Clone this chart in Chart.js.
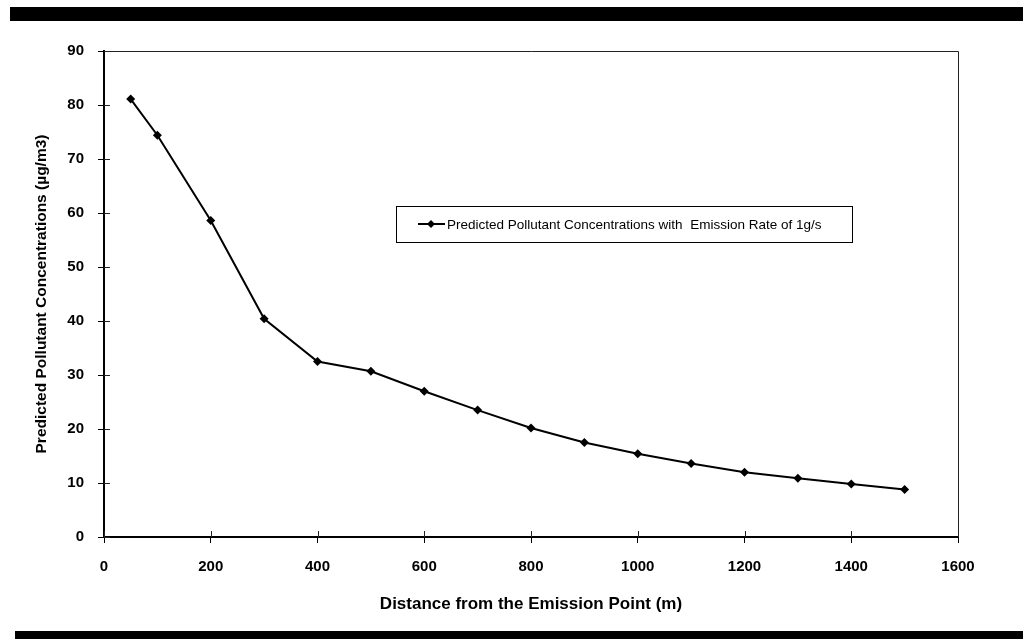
<!DOCTYPE html>
<html>
<head>
<meta charset="utf-8">
<script src="https://cdn.jsdelivr.net/npm/chart.js@4.4.1/dist/chart.umd.min.js"></script>
<style>
  html, body { margin: 0; padding: 0; background: #fff; }
  canvas { display: block; }
</style>
</head>
<body>
<canvas id="concChart" width="1023" height="639"></canvas>
<script>
// distance downwind (m) and predicted concentration (µg/m3)
const distances = [50, 100, 200, 300, 400, 500, 600, 700, 800, 900, 1000, 1100, 1200, 1300, 1400, 1500];
const concentrations = [81.1, 74.4, 58.6, 40.4, 32.5, 30.7, 27.0, 23.5, 20.2, 17.5, 15.4, 13.6, 12.0, 10.9, 9.8, 8.8];
const xTicks = [0, 200, 400, 600, 800, 1000, 1200, 1400, 1600];
const yTicks = [0, 10, 20, 30, 40, 50, 60, 70, 80, 90];

const seriesLabel = 'Predicted Pollutant Concentrations with  Emission Rate of 1g/s';
const xTitle = 'Distance from the Emission Point (m)';
const yTitle = 'Predicted Pollutant Concentrations (\u00b5g/m3)';

const FONT = '"Liberation Sans", Arial, sans-serif';

// page bars, plot frame, inner tick halves and the boxed legend
const decor = {
  id: 'decor',
  beforeDraw(chart) {
    const ctx = chart.ctx;
    ctx.save();
    ctx.fillStyle = '#fff';
    ctx.fillRect(0, 0, chart.width, chart.height);
    ctx.fillStyle = '#000';
    ctx.fillRect(10, 7, chart.width - 10, 14);
    ctx.fillRect(15, 631, chart.width - 15, 8);
    ctx.restore();
  },
  beforeDatasetsDraw(chart) {
    const { ctx, chartArea: a, scales } = chart;
    ctx.save();
    ctx.strokeStyle = '#222';
    ctx.lineWidth = 1;
    ctx.beginPath();
    ctx.moveTo(a.left, a.top + 0.5);
    ctx.lineTo(a.right + 0.5, a.top + 0.5);
    ctx.lineTo(a.right + 0.5, a.bottom);
    ctx.stroke();
    ctx.beginPath();
    yTicks.forEach(v => {
      const y = Math.round(scales.y.getPixelForValue(v)) + 0.5;
      ctx.moveTo(a.left, y);
      ctx.lineTo(a.left + 6, y);
    });
    xTicks.forEach(v => {
      const x = Math.round(scales.x.getPixelForValue(v)) + 0.5;
      ctx.moveTo(x, a.bottom);
      ctx.lineTo(x, a.bottom - 6);
    });
    ctx.stroke();
    ctx.restore();
  },
  afterDraw(chart) {
    const ctx = chart.ctx;
    const ds = chart.data.datasets[0];
    const box = { x: 396, y: 206, w: 456, h: 36 };
    const cy = box.y + box.h / 2;
    ctx.save();
    ctx.strokeStyle = '#000';
    ctx.lineWidth = 1;
    ctx.strokeRect(box.x + 0.5, box.y + 0.5, box.w, box.h);
    ctx.lineWidth = 2;
    ctx.beginPath();
    ctx.moveTo(418, cy);
    ctx.lineTo(445, cy);
    ctx.stroke();
    ctx.fillStyle = '#000';
    ctx.beginPath();
    ctx.moveTo(431, cy - 4);
    ctx.lineTo(435, cy);
    ctx.lineTo(431, cy + 4);
    ctx.lineTo(427, cy);
    ctx.closePath();
    ctx.fill();
    ctx.font = '13.5px ' + FONT;
    ctx.textBaseline = 'middle';
    ctx.fillText(ds.label, 447, cy + 1);
    ctx.restore();
  }
};

new Chart(document.getElementById('concChart'), {
  type: 'line',
  data: {
    datasets: [{
      label: seriesLabel,
      data: distances.map((d, i) => ({ x: d, y: concentrations[i] })),
      borderColor: '#000',
      backgroundColor: '#000',
      borderWidth: 2,
      pointStyle: 'rectRot',
      pointRadius: 4.5,
      pointBorderWidth: 0,
      tension: 0
    }]
  },
  options: {
    responsive: false,
    animation: false,
    layout: { padding: { top: 51, right: 65, left: 0, bottom: 0 } },
    plugins: {
      legend: { display: false },
      tooltip: { enabled: false }
    },
    scales: {
      x: {
        type: 'linear',
        min: 0,
        max: 1600,
        afterBuildTicks: s => { s.ticks = xTicks.map(v => ({ value: v })); },
        afterFit: s => { s.height = 102; },
        grid: { drawOnChartArea: false, tickLength: 6, color: '#000', tickWidth: 1 },
        border: { color: '#000', width: 2 },
        ticks: {
          color: '#000',
          padding: 15,
          font: { family: FONT, size: 15, weight: 'bold' },
          callback: v => String(v)
        },
        title: {
          display: true,
          text: xTitle,
          color: '#000',
          padding: { top: 0, bottom: 24 },
          font: { family: FONT, size: 17, weight: 'bold' }
        }
      },
      y: {
        min: 0,
        max: 90,
        afterBuildTicks: s => { s.ticks = yTicks.map(v => ({ value: v })); },
        afterFit: s => { s.width = 104; },
        grid: { drawOnChartArea: false, tickLength: 6, color: '#000', tickWidth: 1 },
        border: { color: '#000', width: 2 },
        ticks: {
          color: '#000',
          padding: 14,
          font: { family: FONT, size: 15, weight: 'bold' },
          callback: v => String(v)
        },
        title: {
          display: true,
          text: yTitle,
          color: '#000',
          padding: { top: 32, bottom: 0 },
          font: { family: FONT, size: 15.5, weight: 'bold' }
        }
      }
    }
  },
  plugins: [decor]
});
</script>
</body>
</html>
